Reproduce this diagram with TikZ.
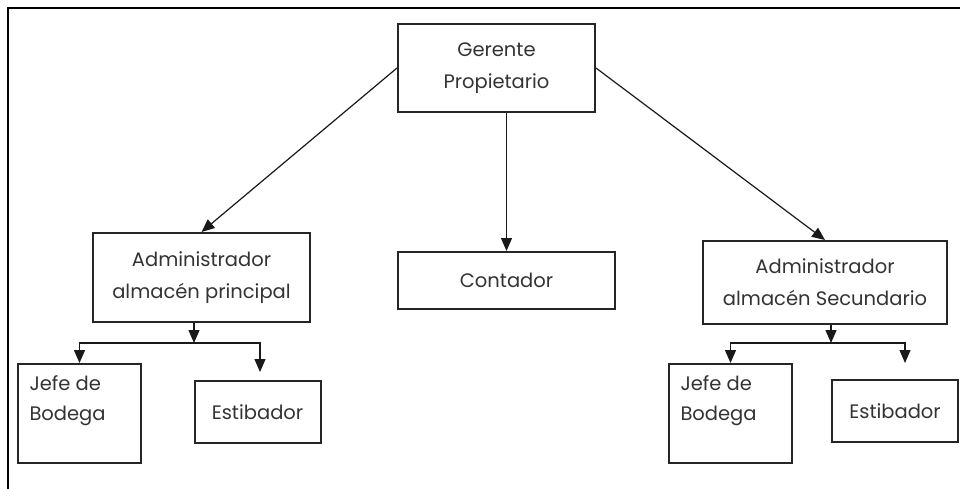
\documentclass[tikz,border=0pt]{standalone}
\usepackage{fontspec}
\setmainfont{Poppins}
\usetikzlibrary{arrows.meta}

\begin{document}
\begin{tikzpicture}[
    x=1pt, y=-1pt,
    box/.style={rectangle, draw=black!85, line width=2pt, inner sep=0pt,
        align=center, text=black!80, font={\fontsize{19.5}{32}\selectfont}},
    arrow/.style={-{Triangle[length=13pt, width=11pt]}, line width=1.2pt, draw=black!90}
]

\useasboundingbox (0,0) rectangle (960,489);

% Frame
\draw[line width=2pt] (8,489) -- (8,8) -- (960,8);

% Top level
\node[box, minimum width=197pt, minimum height=88pt] (gerente) at (496.5,68) {Gerente\\Propietario};

% Second level
\node[box, minimum width=217pt, minimum height=89pt] (adminP) at (201.5,277.5) {Administrador\\almacén principal};
\node[box, minimum width=217pt, minimum height=57pt] (contador) at (506.5,280.5) {Contador};
\node[box, minimum width=244pt, minimum height=83pt] (adminS) at (825,282.5) {Administrador\\almacén Secundario};

% Third level (left)
\node[box, minimum width=123pt, minimum height=99pt,
    label={[anchor=north west, align=left, text=black!80, font={\fontsize{19.5}{30}\selectfont},
        xshift=9pt, yshift=-9pt]north west:Jefe de\\Bodega}] (jefeP) at (79.5,413.5) {};
\node[box, minimum width=126pt, minimum height=62pt] (estibP) at (257.5,412) {Estibador};

% Third level (right)
\node[box, minimum width=123pt, minimum height=99pt,
    label={[anchor=north west, align=left, text=black!80, font={\fontsize{19.5}{30}\selectfont},
        xshift=9pt, yshift=-9pt]north west:Jefe de\\Bodega}] (jefeS) at (730.5,413.5) {};
\node[box, minimum width=126pt, minimum height=62pt] (estibS) at (895,411) {Estibador};

% Junctions and free ends
\coordinate (barP) at (194,343);
\coordinate (endP) at (260,372);
\coordinate (barS) at (831,343);
\coordinate (endS) at (905,363);

% Connect top to second level
\draw[arrow] (gerente.west) -- (adminP.north);
\draw[arrow] (gerente.south -| contador.north) -- (contador.north);
\draw[arrow] (gerente.east) -- (adminS.north);

% Connect second to third level
\draw[arrow] (adminP.south -| barP) -- (barP);
\draw[arrow] (barP) -| (jefeP.north);
\draw[arrow] (barP) -| (endP);
\draw[arrow] (adminS.south -| barS) -- (barS);
\draw[arrow] (barS) -| (jefeS.north);
\draw[arrow] (barS) -| (endS);

\end{tikzpicture}
\end{document}
